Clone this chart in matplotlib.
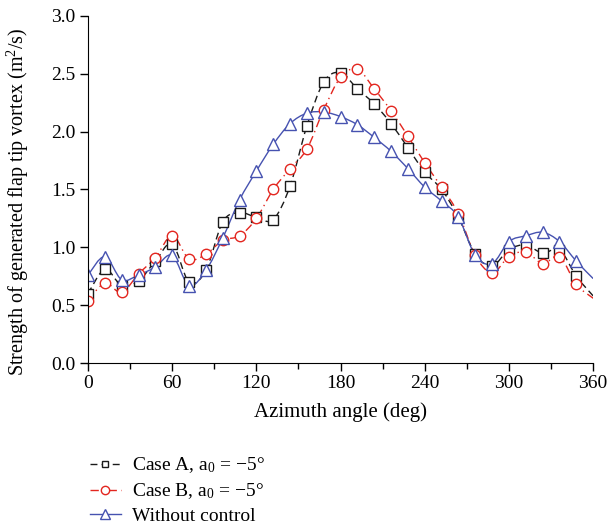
import numpy as np
import matplotlib.pyplot as plt
from matplotlib.path import Path
from matplotlib.patches import PathPatch
from matplotlib.lines import Line2D

plt.rcParams['font.family'] = 'Liberation Serif'
plt.rcParams['mathtext.fontset'] = 'custom'
plt.rcParams['mathtext.rm'] = 'Liberation Serif'
plt.rcParams['mathtext.it'] = 'Liberation Serif:italic'

# azimuth angle (deg), one value every 12 deg
azimuth = np.arange(0, 361, 12)

case_a = [0.60, 0.81, 0.67, 0.71, 0.88, 1.03, 0.70, 0.80, 1.22, 1.30, 1.26,
          1.24, 1.53, 2.05, 2.43, 2.51, 2.37, 2.24, 2.07, 1.86, 1.65, 1.50,
          1.26, 0.94, 0.84, 0.98, 1.02, 0.95, 0.98, 0.75, 0.58]
case_b = [0.54, 0.69, 0.61, 0.77, 0.91, 1.10, 0.90, 0.94, 1.06, 1.10, 1.25,
          1.50, 1.68, 1.85, 2.19, 2.47, 2.54, 2.37, 2.18, 1.96, 1.73, 1.52,
          1.29, 0.93, 0.78, 0.92, 0.96, 0.86, 0.92, 0.68, 0.56]
no_control = [0.76, 0.92, 0.72, 0.76, 0.83, 0.93, 0.67, 0.80, 1.08, 1.41, 1.66,
              1.89, 2.07, 2.16, 2.17, 2.13, 2.06, 1.95, 1.83, 1.68, 1.52, 1.40,
              1.26, 0.93, 0.86, 1.05, 1.10, 1.13, 1.05, 0.88, 0.73]

labels = [r'Case A, $\mathrm{a}_0$ = −5°', r'Case B, $\mathrm{a}_0$ = −5°',
          'Without control']


def smooth_path(x, y):
    # smoothed line like a spreadsheet "smooth line" (Catmull-Rom as Bezier)
    pts = np.column_stack([x, y]).astype(float)
    p = np.vstack([pts[0], pts, pts[-1]])
    verts = [pts[0]]
    codes = [Path.MOVETO]
    for i in range(len(pts) - 1):
        p0, p1, p2, p3 = p[i], p[i + 1], p[i + 2], p[i + 3]
        verts += [p1 + (p2 - p0) / 6, p2 - (p3 - p1) / 6, p2]
        codes += [Path.CURVE4] * 3
    return Path(verts, codes)


fig = plt.figure(figsize=(6.09, 5.28), dpi=100)
ax = fig.add_axes([0.1445, 0.3125, 0.8295, 0.6572])

styles = [
    dict(color='#1a1a1a', ls=(0, (5, 3)), marker='s', ms=6.5),
    dict(color='#e3261f', ls=(0, (6, 3, 1, 3)), marker='o', ms=7.5),
    dict(color='#4652b0', ls='-', marker='^', ms=8.5),
]
handles = []
for yv, st in zip([case_a, case_b, no_control], styles):
    ax.add_patch(PathPatch(smooth_path(azimuth, yv), fill=False,
                           edgecolor=st['color'], linestyle=st['ls'], lw=1.0))
    ax.plot(azimuth[:-1], yv[:-1], ls='none', marker=st['marker'],
            ms=st['ms'], mfc='white', mec=st['color'], mew=1.0)
    handles.append(Line2D([], [], color=st['color'], ls=st['ls'], lw=1.0,
                          marker=st['marker'], ms=st['ms'] - 1.5, mfc='white',
                          mec=st['color'], mew=1.0))

ax.set_xlim(0, 360)
ax.set_ylim(0, 3.0)
ax.set_xticks(np.arange(0, 361, 60))
ax.set_xticks(np.arange(30, 361, 60), minor=True)
ax.set_yticks(np.arange(0, 3.01, 0.5))
ax.set_yticklabels(['%.1f' % v for v in np.arange(0, 3.01, 0.5)])
ax.spines['top'].set_visible(False)
ax.spines['right'].set_visible(False)
ax.tick_params(direction='out', length=6, width=1, labelsize=14, pad=3)
ax.tick_params(which='minor', direction='out', length=4, width=1)
ax.set_xlabel('Azimuth angle (deg)', fontsize=15, labelpad=7)
ax.set_ylabel('Strength of generated flap tip vortex (m$^2$/s)', fontsize=14.5)
ax.yaxis.set_label_coords(-0.112, 0.465)

fig.legend(handles, labels, loc='upper left',
           bbox_to_anchor=(72 / 609, 1 - 438 / 528), frameon=False,
           fontsize=14, handlelength=1.6, handletextpad=0.6, labelspacing=0.32)

fig.savefig('out.png', dpi=100)
